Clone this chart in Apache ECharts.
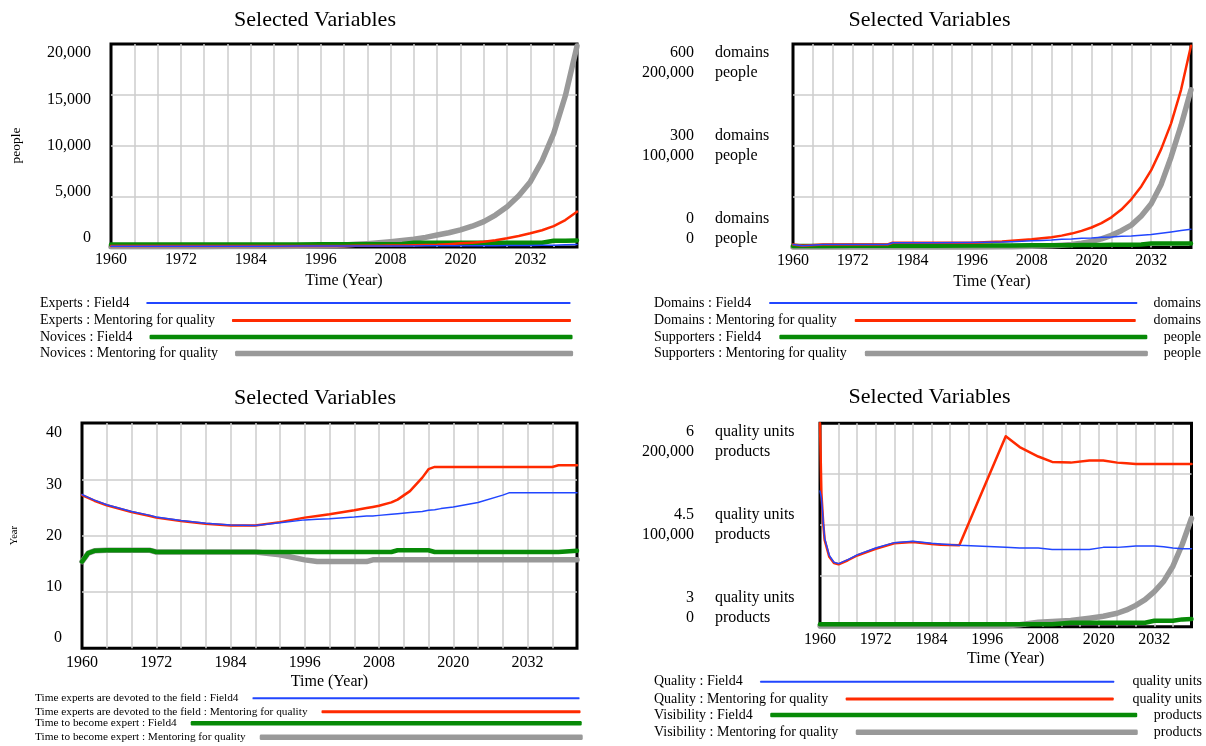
<!DOCTYPE html>
<html>
<head>
<meta charset="utf-8">
<script src="https://cdn.jsdelivr.net/npm/echarts@6/dist/echarts.min.js"></script>
<style>
  html, body { margin: 0; padding: 0; background: #fff; }
  #chart { width: 1206px; height: 746px; }
</style>
</head>
<body>
<div id="chart"></div>
<script>
// ---- data ----
const xTickYears = [1960, 1972, 1984, 1996, 2008, 2020, 2032];

// panel 1: people
const years1 = [1960, 1964, 1968, 1972, 1976, 1980, 1984, 1988, 1992, 1996, 2000,
  2002, 2004, 2006, 2008, 2010, 2012, 2014, 2016, 2018, 2020, 2022, 2024, 2026, 2028, 2030, 2032, 2034, 2036, 2038, 2040];
const expertsField4 = [70, 70, 70, 70, 70, 75, 80, 85, 90, 95, 100,
  100, 100, 105, 110, 110, 110, 115, 120, 120, 120, 125, 130, 135, 140, 145, 150, 165, 180, 210, 250];
const expertsMentoring = [100, 100, 100, 100, 100, 100, 100, 100, 100, 100, 110,
  115, 120, 130, 140, 155, 170, 190, 220, 280, 360, 430, 520, 670, 855, 1080, 1350, 1650, 2050, 2650, 3480];
const novicesField4 = [250, 250, 250, 250, 250, 250, 250, 250, 250, 260, 260,
  265, 270, 275, 280, 300, 420, 420, 420, 420, 420, 420, 420, 420, 420, 420, 420, 420, 620, 620, 650];
const novicesMentoring = [30, 30, 30, 30, 30, 40, 50, 60, 80, 120, 200,
  260, 330, 420, 520, 630, 760, 950, 1180, 1400, 1680, 2050, 2500, 3150, 3970, 5050, 6440, 8500, 11200, 14900, 19800];
const yTicks1 = ['0', '5,000', '10,000', '15,000', '20,000'];

// panel 2: domains / people
const years2 = [1960, 1962, 1966, 1972, 1979, 1980, 1988, 1996, 2002, 2004, 2008,
  2010, 2012, 2014, 2016, 2018, 2020, 2022, 2024, 2026, 2028, 2030, 2032, 2034, 2036, 2038, 2040];
const domainsField4 = [9, 5, 9, 9, 9, 14, 14, 15, 16, 17, 20,
  21, 22, 24, 25, 27, 28, 30, 31, 33, 34, 36, 38, 42, 46, 50, 54];
const domainsMentoring = [9, 5, 9, 9, 9, 14, 14, 14, 18, 20, 24,
  27, 30, 35, 41, 49, 59, 72, 89, 112, 142, 180, 228, 290, 366, 465, 595];
const supportersField4 = [1500, 1500, 1500, 1600, 1700, 1700, 1800, 1900, 2000, 2000, 2100,
  2150, 2200, 2250, 2300, 2400, 2500, 2550, 2600, 2700, 2800, 3000, 4000, 4000, 4000, 4000, 4000];
const supportersMentoring = [500, 500, 500, 500, 500, 500, 550, 600, 700, 800, 1300,
  1500, 1800, 2300, 3000, 4300, 6000, 8500, 12000, 16500, 22000, 31000, 43000, 62000, 89000, 120000, 155000];
const yTicks2Domains = ['0', '300', '600'];
const yTicks2People = ['0', '100,000', '200,000'];
const units2 = ['domains', 'people'];

// panel 3: Year
const years3 = [1960, 1961, 1962, 1964, 1968, 1971, 1972, 1976, 1980, 1984, 1988, 1992, 1996, 1998, 2000, 2004, 2006, 2007, 2008, 2010, 2011, 2013, 2015, 2016, 2017, 2018, 2020, 2024, 2028, 2029, 2032, 2036, 2037, 2040];
const devotedField4 = [27.3, 26.8, 26.3, 25.5, 24.3, 23.6, 23.3, 22.7, 22.2, 21.9, 21.8, 22.3, 22.8, 22.9, 23.0, 23.3, 23.5, 23.5, 23.6, 23.8, 23.9, 24.1, 24.3, 24.5, 24.6, 24.8, 25.1, 25.9, 27.2, 27.6, 27.6, 27.6, 27.6, 27.6];
const devotedMentoring = [27.2, 26.7, 26.2, 25.4, 24.2, 23.5, 23.2, 22.6, 22.1, 21.8, 21.8, 22.4, 23.2, 23.5, 23.8, 24.5, 24.9, 25.1, 25.3, 25.9, 26.4, 27.9, 30.3, 31.8, 32.2, 32.2, 32.2, 32.2, 32.2, 32.2, 32.2, 32.2, 32.5, 32.5];
const becomeField4 = [15.4, 16.9, 17.3, 17.4, 17.4, 17.4, 17.1, 17.1, 17.1, 17.1, 17.1, 17.1, 17.1, 17.1, 17.1, 17.1, 17.1, 17.1, 17.1, 17.1, 17.4, 17.4, 17.4, 17.4, 17.1, 17.1, 17.1, 17.1, 17.1, 17.1, 17.1, 17.1, 17.1, 17.3];
const becomeMentoring = [15.4, 16.9, 17.3, 17.4, 17.4, 17.4, 17.1, 17.1, 17.1, 17.1, 17.1, 16.6, 15.7, 15.4, 15.4, 15.4, 15.4, 15.7, 15.7, 15.7, 15.7, 15.7, 15.7, 15.7, 15.7, 15.7, 15.7, 15.7, 15.7, 15.7, 15.7, 15.7, 15.7, 15.7];
const yTicks3 = ['0', '10', '20', '30', '40'];

// panel 4: quality units / products
const years4 = [1960, 1960.3, 1960.7, 1961, 1962, 1963, 1964, 1966, 1968, 1972, 1976, 1980, 1984, 1986, 1990, 2000, 2003, 2007, 2010, 2014, 2018, 2021, 2024, 2026, 2028, 2030, 2032, 2034, 2036, 2038, 2040];
const qualityField4 = [5.0, 4.9, 4.55, 4.3, 4.05, 3.95, 3.93, 3.99, 4.06, 4.16, 4.24, 4.26, 4.23, 4.22, 4.2, 4.17, 4.16, 4.16, 4.14, 4.14, 4.14, 4.17, 4.17, 4.18, 4.19, 4.19, 4.19, 4.18, 4.16, 4.15, 4.15];
const qualityMentoring = [6.0, 4.97, 4.52, 4.28, 4.03, 3.94, 3.92, 3.98, 4.05, 4.15, 4.23, 4.25, 4.22, 4.21, 4.2, 5.81, 5.65, 5.51, 5.43, 5.42, 5.45, 5.45, 5.42, 5.41, 5.40, 5.40, 5.40, 5.40, 5.40, 5.40, 5.40];
const visibilityField4 = [2300, 2300, 2300, 2300, 2300, 2300, 2300, 2300, 2300, 2300, 2300, 2300, 2300, 2300, 2300, 2300, 2300, 2300, 2300, 3900, 3900, 3900, 3900, 3900, 3900, 3900, 5900, 5900, 5900, 7200, 7500];
const visibilityMentoring = [1000, 1000, 1000, 1000, 1000, 1000, 1000, 1000, 1000, 1000, 1000, 1000, 1000, 1000, 1000, 1000, 2000, 4300, 5000, 6200, 8400, 10300, 13200, 16500, 21000, 26600, 34500, 44600, 59500, 80800, 106600];
const yTicks4Quality = ['3', '4.5', '6'];
const yTicks4Products = ['0', '100,000', '200,000'];
const units4 = ['quality units', 'products'];

// ---- styling ----
const FONT = '"Liberation Serif", "Times New Roman", serif';
const BLUE = { color: '#2146ff', width: 1.5, legend: 2 };
const RED = { color: '#ff2a00', width: 2.5, legend: 3 };
const GREEN = { color: '#078a07', width: 4.5, legend: 4.5 };
const GRAY = { color: '#999999', width: 5.5, legend: 5.5 };
const GRID_LINE = '#cccccc';

const chart = echarts.init(document.getElementById('chart'));

const pairs = (xs, ys) => xs.map((x, i) => [x, ys[i]]);

function xAxis(gridIndex, nameGap, labelMargin) {
  return {
    type: 'value', gridIndex, min: 1960, max: 2040, interval: 4,
    name: 'Time (Year)', nameLocation: 'middle', nameGap, nameMoveOverlap: false,
    nameTextStyle: { fontSize: 16, fontFamily: FONT, color: '#000' },
    axisLine: { show: false }, axisTick: { show: false },
    splitLine: { show: true, showMinLine: false, showMaxLine: false, lineStyle: { color: GRID_LINE, width: 1.5 } },
    axisLabel: {
      margin: labelMargin, fontSize: 16, fontFamily: FONT, color: '#000',
      formatter: v => (xTickYears.includes(v) ? String(v) : '')
    }
  };
}

function dataAxis(gridIndex, min, max, interval, extra) {
  return Object.assign({
    type: 'value', gridIndex, position: 'left', min, max, interval,
    axisLine: { show: false }, axisTick: { show: false }, axisLabel: { show: false },
    splitLine: { show: true, showMinLine: false, showMaxLine: false, lineStyle: { color: GRID_LINE, width: 1.5 } }
  }, extra || {});
}

function hiddenAxis(gridIndex, min, max) {
  return { type: 'value', gridIndex, position: 'left', min, max, show: false, splitLine: { show: false } };
}

// Vensim spreads its tick labels inside the box; a 0..22 helper axis places them
function labelAxis(gridIndex, labels, slots, margin, align) {
  return {
    type: 'value', gridIndex, position: 'left', min: 0, max: 22, interval: 1,
    axisLine: { show: false }, axisTick: { show: false }, splitLine: { show: false },
    axisLabel: {
      margin, align, fontSize: 16, lineHeight: 20, fontFamily: FONT, color: '#000',
      formatter: v => { const i = slots.indexOf(v); return i < 0 ? '' : labels[i]; }
    }
  };
}

function line(name, xi, yi, xs, ys, st) {
  return {
    name, type: 'line', xAxisIndex: xi, yAxisIndex: yi, data: pairs(xs, ys),
    showSymbol: false, symbol: 'none', animation: false,
    lineStyle: { color: st.color, width: st.width, join: 'round', cap: 'round' },
    itemStyle: { color: st.color }
  };
}

function legendRow(name, left, cy, width, st, fontSize, gap) {
  return {
    left, top: cy - fontSize / 2, padding: 0, itemWidth: width, itemHeight: st.legend,
    align: 'right', icon: 'roundRect', selectedMode: false, data: [name],
    itemStyle: { color: st.color },
    textStyle: { fontSize, fontFamily: FONT, color: '#000', padding: [0, gap - 5, 0, 0] }
  };
}

function text(t, x, y, size, align) {
  return {
    text: t, left: x, top: y, textAlign: align, textVerticalAlign: 'middle', padding: 0,
    textStyle: { fontSize: size, fontWeight: 'normal', fontFamily: FONT, color: '#000' }
  };
}

const FIVE = [1, 6, 11, 16, 21];
const THREE = [2, 11, 20];
const grid = (left, top, width, height) => ({
  left, top, width, height, show: true, borderColor: '#000', borderWidth: 3,
  backgroundColor: 'transparent', containLabel: false, outerBoundsMode: 'none'
});

chart.setOption({
  animation: false,
  backgroundColor: '#fff',
  title: [
    text('Selected Variables', 315, 20, 22, 'center'),
    text('Selected Variables', 929.5, 20, 22, 'center'),
    text('Selected Variables', 315, 398, 22, 'center'),
    text('Selected Variables', 929.5, 397.5, 22, 'center'),
    text(units2[0], 1201, 303, 14, 'right'),
    text(units2[0], 1201, 320.5, 14, 'right'),
    text(units2[1], 1201, 337, 14, 'right'),
    text(units2[1], 1201, 353.5, 14, 'right'),
    text(units4[0], 1202, 681.7, 14, 'right'),
    text(units4[0], 1202, 699, 14, 'right'),
    text(units4[1], 1202, 715, 14, 'right'),
    text(units4[1], 1202, 732.3, 14, 'right')
  ],
  grid: [
    grid(111, 44, 466, 203),
    grid(793, 44, 398, 203.5),
    grid(82, 423, 495, 225.3),
    grid(820, 423.3, 371.5, 203.4)
  ],
  xAxis: [xAxis(0, 26, 5), xAxis(1, 26, 5), xAxis(2, 25, 6), xAxis(3, 24.5, 5)],
  yAxis: [
    dataAxis(0, 0, 20000, 5000, { name: 'people', nameLocation: 'middle', nameRotate: 90, nameGap: 87.5, nameTextStyle: { fontSize: 13.5, fontFamily: FONT, color: '#000' } }),
    labelAxis(0, yTicks1, FIVE, 20, 'right'),
    dataAxis(1, 0, 600, 150),
    hiddenAxis(1, 0, 200000),
    labelAxis(1, yTicks2Domains.map((d, i) => d + '\n' + yTicks2People[i]), THREE, 99, 'right'),
    labelAxis(1, THREE.map(() => units2.join('\n')), THREE, 78, 'left'),
    dataAxis(2, 0, 40, 10, { name: 'Year', nameLocation: 'middle', nameRotate: 90, nameGap: 62, nameTextStyle: { fontSize: 10.5, fontFamily: FONT, color: '#000' } }),
    labelAxis(2, yTicks3, FIVE, 20, 'right'),
    dataAxis(3, 3, 6, 0.75),
    hiddenAxis(3, 0, 200000),
    labelAxis(3, yTicks4Quality.map((q, i) => q + '\n' + yTicks4Products[i]), THREE, 126, 'right'),
    labelAxis(3, THREE.map(() => units4.join('\n')), THREE, 105, 'left')
  ],
  legend: [
    legendRow('Experts : Field4', 40, 303, 424, BLUE, 14, 17),
    legendRow('Experts : Mentoring for quality', 40, 320.5, 339, RED, 14, 17),
    legendRow('Novices : Field4', 40, 337, 423, GREEN, 14, 17),
    legendRow('Novices : Mentoring for quality', 40, 353.5, 338, GRAY, 14, 17),

    legendRow('Domains : Field4', 654, 303, 368, BLUE, 14, 18),
    legendRow('Domains : Mentoring for quality', 654, 320.5, 281, RED, 14, 18),
    legendRow('Supporters : Field4', 654, 337, 368, GREEN, 14, 18),
    legendRow('Supporters : Mentoring for quality', 654, 353.5, 283, GRAY, 14, 18),

    legendRow('Time experts are devoted to the field : Field4', 35, 698.5, 327, BLUE, 11.3, 14),
    legendRow('Time experts are devoted to the field : Mentoring for quality', 35, 712, 259, RED, 11.3, 14),
    legendRow('Time to become expert : Field4', 35, 723.5, 391, GREEN, 11.3, 14),
    legendRow('Time to become expert : Mentoring for quality', 35, 737.5, 323, GRAY, 11.3, 14),

    legendRow('Quality : Field4', 654, 681.7, 354, BLUE, 14, 17.5),
    legendRow('Quality : Mentoring for quality', 654, 699, 268, RED, 14, 17.5),
    legendRow('Visibility : Field4', 654, 715, 367, GREEN, 14, 17.5),
    legendRow('Visibility : Mentoring for quality', 654, 732.3, 282, GRAY, 14, 17.5)
  ],
  series: [
    line('Novices : Mentoring for quality', 0, 0, years1, novicesMentoring, GRAY),
    line('Novices : Field4', 0, 0, years1, novicesField4, GREEN),
    line('Experts : Mentoring for quality', 0, 0, years1, expertsMentoring, RED),
    line('Experts : Field4', 0, 0, years1, expertsField4, BLUE),

    line('Supporters : Mentoring for quality', 1, 3, years2, supportersMentoring, GRAY),
    line('Supporters : Field4', 1, 3, years2, supportersField4, GREEN),
    line('Domains : Mentoring for quality', 1, 2, years2, domainsMentoring, RED),
    line('Domains : Field4', 1, 2, years2, domainsField4, BLUE),

    line('Time to become expert : Mentoring for quality', 2, 6, years3, becomeMentoring, GRAY),
    line('Time to become expert : Field4', 2, 6, years3, becomeField4, GREEN),
    line('Time experts are devoted to the field : Mentoring for quality', 2, 6, years3, devotedMentoring, RED),
    line('Time experts are devoted to the field : Field4', 2, 6, years3, devotedField4, BLUE),

    line('Visibility : Mentoring for quality', 3, 9, years4, visibilityMentoring, GRAY),
    line('Visibility : Field4', 3, 9, years4, visibilityField4, GREEN),
    line('Quality : Mentoring for quality', 3, 8, years4, qualityMentoring, RED),
    line('Quality : Field4', 3, 8, years4, qualityField4, BLUE)
  ]
});
</script>
</body>
</html>
